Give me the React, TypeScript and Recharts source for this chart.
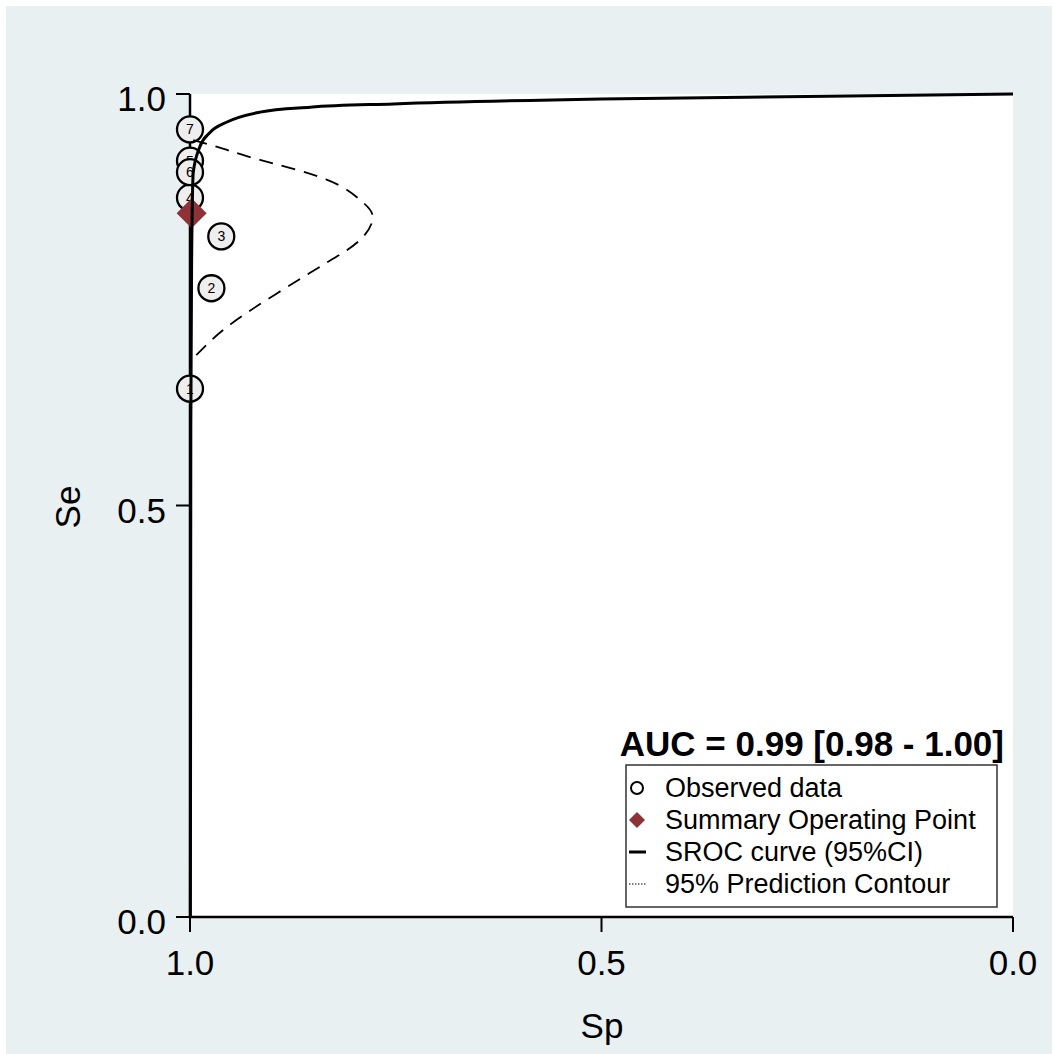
// SROC plot (bivariate meta-analysis): observed studies, summary point,
// SROC curve and 95% prediction contour, drawn with recharts.

import * as React from 'react';
import {
  CartesianGrid,
  ComposedChart,
  Line,
  Scatter,
  XAxis,
  YAxis,
} from 'recharts';

// observed studies
const studyIds = [1, 2, 3, 4, 5, 6, 7];
const obsSp = [1.0, 0.974, 0.962, 1.0, 1.0, 1.0, 1.0];
const obsSe = [0.642, 0.764, 0.827, 0.874, 0.919, 0.905, 0.957];

// summary operating point
const summarySp = [0.998];
const summarySe = [0.855];

// SROC curve
const srocSp = [0.9995, 0.999, 0.998, 0.996, 0.988, 0.976, 0.955, 0.915, 0.854, 0.753, 0.5, 0.25, 0];
const srocSe = [0, 0.6, 0.8, 0.905, 0.936, 0.953, 0.966, 0.978, 0.984, 0.988, 0.994, 0.997, 1.0];

// 95% prediction contour
const predSp = [0.996, 0.955, 0.915, 0.834, 0.793, 0.778, 0.793, 0.834, 0.894, 0.955, 0.994];
const predSe = [0.944, 0.932, 0.92, 0.896, 0.871, 0.851, 0.823, 0.795, 0.758, 0.717, 0.681];

const axisTicks = [0, 0.5, 1];
const xTitle = 'Sp';
const yTitle = 'Se';
const aucLabel = 'AUC = 0.99 [0.98 - 1.00]';
const legendLabels = [
  'Observed data',
  'Summary Operating Point',
  'SROC curve (95%CI)',
  '95% Prediction Contour',
];

const W = 1053;
const H = 1054;
const FONT = '"Liberation Sans", Arial, Helvetica, sans-serif';
const BG = '#e8f0f2';
const RED = '#8e3237';

const observed = studyIds.map((id, i) => ({ id, sp: obsSp[i], se: obsSe[i] }));
const summary = summarySp.map((sp, i) => ({ sp, se: summarySe[i] }));
const sroc = srocSp.map((sp, i) => ({ sp, se: srocSe[i] }));
const pred = predSp.map((sp, i) => ({ sp, se: predSe[i] }));

function StudyDot(props: any) {
  const { cx, cy, payload } = props;
  return (
    <g>
      <circle cx={cx} cy={cy} r={13} fill='#eeeeee' stroke='#000' strokeWidth={2.3} />
      <text x={cx} y={cy + 5} textAnchor='middle' fontSize={14} fontFamily={FONT} fill='#000'>
        {payload.id}
      </text>
    </g>
  );
}

function Diamond(props: any) {
  const { cx, cy } = props;
  const r = 15;
  return (
    <polygon
      points={`${cx},${cy - r} ${cx + r},${cy} ${cx},${cy + r} ${cx - r},${cy}`}
      fill={RED}
    />
  );
}

function XTick(props: any) {
  const { x, payload } = props;
  return (
    <text x={x} y={975} textAnchor='middle' fontSize={35} fontFamily={FONT} fill='#000'>
      {payload.value.toFixed(1)}
    </text>
  );
}

function YTick(props: any) {
  const { y, payload } = props;
  return (
    <text x={166} y={y + 17} textAnchor='end' fontSize={35} fontFamily={FONT} fill='#000'>
      {payload.value.toFixed(1)}
    </text>
  );
}

function Overlay() {
  const rows = [797, 829, 861, 893];
  const sx = 637;
  return (
    <svg
      width={W}
      height={H}
      style={{ position: 'absolute', left: 0, top: 0, pointerEvents: 'none' }}
      fontFamily={FONT}
    >
      <text x={602} y={1038} textAnchor='middle' fontSize={35}>
        {xTitle}
      </text>
      <text
        x={0}
        y={0}
        textAnchor='middle'
        fontSize={35}
        transform='translate(80,507) rotate(-90)'
      >
        {yTitle}
      </text>
      <text x={1004} y={756} textAnchor='end' fontSize={35} fontWeight='bold'>
        {aucLabel}
      </text>
      <rect x={626} y={765} width={371} height={142} fill='#fff' stroke='#333' strokeWidth={1.5} />
      <circle cx={sx} cy={rows[0] - 9} r={6} fill='none' stroke='#000' strokeWidth={2} />
      <polygon
        points={`${sx},${rows[1] - 17} ${sx + 8},${rows[1] - 9} ${sx},${rows[1] - 1} ${sx - 8},${rows[1] - 9}`}
        fill={RED}
      />
      <line x1={629} x2={646} y1={rows[2] - 9} y2={rows[2] - 9} stroke='#000' strokeWidth={3} />
      <line
        x1={629}
        x2={646}
        y1={rows[3] - 9}
        y2={rows[3] - 9}
        stroke='#000'
        strokeWidth={1}
        strokeDasharray='1.5 1.5'
      />
      {legendLabels.map((label, i) => (
        <text key={label} x={665} y={rows[i]} fontSize={27}>
          {label}
        </text>
      ))}
    </svg>
  );
}

export default function App() {
  return (
    <div
      style={{
        position: 'absolute',
        left: 0,
        top: 0,
        width: W,
        height: H,
        background: '#fff',
        fontFamily: FONT,
      }}
    >
      <div
        style={{ position: 'absolute', left: 6, top: 6, width: 1046, height: 1048, background: BG }}
      />
      <div style={{ position: 'absolute', left: 0, top: 0 }}>
        <ComposedChart width={W} height={H} margin={{ top: 94, right: 40, bottom: 0, left: 0 }}>
          <CartesianGrid horizontal={false} vertical={false} fill='#fff' fillOpacity={1} />
          <XAxis
            type='number'
            dataKey='sp'
            domain={[0, 1]}
            reversed
            ticks={axisTicks}
            interval={0}
            height={137}
            tickSize={15}
            tickMargin={0}
            tick={<XTick />}
            axisLine={{ stroke: '#000', strokeWidth: 2.5 }}
            tickLine={{ stroke: '#000', strokeWidth: 2 }}
          />
          <YAxis
            type='number'
            dataKey='se'
            domain={[0, 1]}
            ticks={axisTicks}
            interval={0}
            width={190}
            tickSize={14}
            tickMargin={10}
            tick={<YTick />}
            axisLine={{ stroke: '#000', strokeWidth: 2.5 }}
            tickLine={{ stroke: '#000', strokeWidth: 2 }}
          />
          <Scatter data={observed} shape={<StudyDot />} isAnimationActive={false} zIndex={500} />
          <Line
            data={pred}
            dataKey='se'
            type='natural'
            stroke='#000'
            strokeWidth={1.8}
            strokeDasharray='14 9'
            dot={false}
            activeDot={false}
            isAnimationActive={false}
            zIndex={550}
          />
          <Scatter data={summary} shape={<Diamond />} isAnimationActive={false} zIndex={600} />
          <Line
            data={sroc}
            dataKey='se'
            type='monotone'
            stroke='#000'
            strokeWidth={3}
            dot={false}
            activeDot={false}
            isAnimationActive={false}
            zIndex={700}
          />
        </ComposedChart>
      </div>
      <Overlay />
    </div>
  );
}
